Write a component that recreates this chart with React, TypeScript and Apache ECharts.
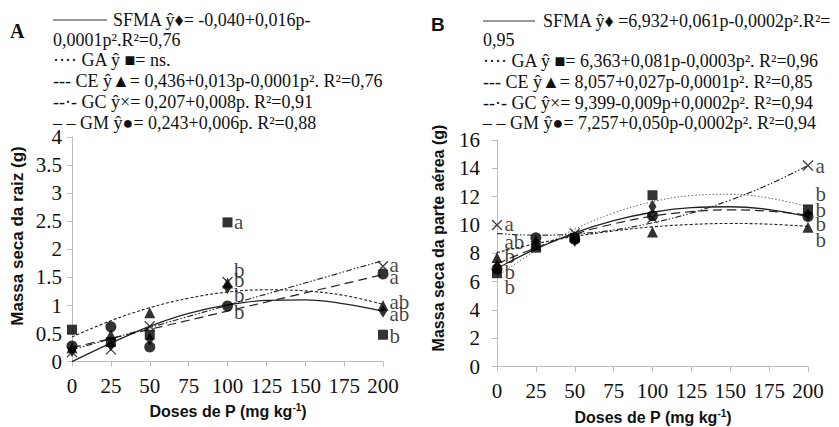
import React, { useEffect, useRef } from "react";
import * as echarts from "echarts";

// ---------- data ----------
const doses = [0, 25, 50, 100, 200];
const fitDoses = [0, 25, 50, 75, 100, 125, 150, 175, 200];
const treatments = ["SFMA", "GA", "CE", "GC", "GM"];

// Panel A – Massa seca da raiz (g)
const rootSFMA = [0.2, 0.3, 0.4, 1.32, 0.9];
const rootGA = [0.57, 0.35, 0.48, 2.48, 0.48];
const rootCE = [0.25, 0.48, 0.87, 1.4, 1.0];
const rootGC = [0.17, 0.22, 0.63, 1.42, 1.7];
const rootGM = [0.28, 0.62, 0.26, 0.99, 1.56];
// fitted curves (at fitDoses)
const rootFitSFMA = [0, 0.33, 0.63, 0.86, 1.01, 1.09, 1.1, 1.03, 0.9];
const rootFitCE = [0.44, 0.73, 0.96, 1.13, 1.24, 1.28, 1.26, 1.18, 1.02];
const rootFitGC = [0.21, null, null, null, null, null, null, null, 1.8];
const rootFitGM = [0.25, null, null, null, null, null, null, null, 1.55];
const rootLetters = [
  { dose: 100, value: 2.48, text: "a" },
  { dose: 100, value: 1.63, text: "b" },
  { dose: 100, value: 1.45, text: "b" },
  { dose: 100, value: 1.19, text: "b" },
  { dose: 100, value: 0.89, text: "b" },
  { dose: 200, value: 1.72, text: "a" },
  { dose: 200, value: 1.51, text: "a" },
  { dose: 200, value: 1.07, text: "ab" },
  { dose: 200, value: 0.85, text: "ab" },
  { dose: 200, value: 0.46, text: "b" },
];
const legendA = [
  "SFMA ŷ♦= -0,040+0,016p-",
  "0,0001p².R²=0,76",
  "···· GA ŷ ■= ns.",
  "--- CE ŷ▲= 0,436+0,013p-0,0001p². R²=0,76",
  "--·- GC ŷ×= 0,207+0,008p. R²=0,91",
  "– – GM ŷ●= 0,243+0,006p. R²=0,88",
];

// Panel B – Massa seca da parte aérea (g)
const shootSFMA = [7.1, 8.8, 8.9, 11.3, 10.7];
const shootGA = [6.6, 8.4, 9.1, 12.1, 11.1];
const shootCE = [7.7, 8.6, 9.2, 9.5, 9.85];
const shootGC = [10.0, 8.5, 9.4, 10.5, 14.2];
const shootGM = [6.9, 9.1, 9.0, 10.65, 10.6];
const shootFitSFMA = [6.93, 8.32, 9.45, 10.31, 10.9, 11.23, 11.29, 11.09, 10.6];
const shootFitGA = [6.36, 8.21, 9.71, 10.85, 11.64, 12.08, 12.17, 11.9, 11.3];
const shootFitCE = [8.06, 8.68, 9.19, 9.58, 9.87, 10.04, 10.11, 10.06, 9.9];
const shootFitGC = [9.4, 9.28, 9.36, 9.65, 10.15, 10.85, 11.76, 12.87, 14.2];
const shootFitGM = [7.26, 8.4, 9.35, 10.08, 10.62, 10.94, 11.07, 10.98, 10.7];
const shootLetters = [
  { dose: 0, value: 10.1, text: "a" },
  { dose: 0, value: 8.8, text: "ab" },
  { dose: 0, value: 7.8, text: "b" },
  { dose: 0, value: 6.65, text: "b" },
  { dose: 0, value: 5.6, text: "b" },
  { dose: 200, value: 14.2, text: "a" },
  { dose: 200, value: 12.2, text: "b" },
  { dose: 200, value: 11.06, text: "b" },
  { dose: 200, value: 10.07, text: "b" },
  { dose: 200, value: 8.96, text: "b" },
];
const legendB = [
  "SFMA ŷ♦ =6,932+0,061p-0,0002p².R²=",
  "0,95",
  "···· GA ŷ ■= 6,363+0,081p-0,0003p². R²=0,96",
  "--- CE ŷ▲= 8,057+0,027p-0,0001p². R²=0,85",
  "--·- GC ŷ×= 9,399-0,009p+0,0002p². R²=0,94",
  "– – GM ŷ●= 7,257+0,050p-0,0002p². R²=0,94",
];

// ---------- styles ----------
const SERIF = "Times New Roman, Liberation Serif, serif";
const SANS = "Liberation Sans";
const AXIS_GREY = "#bdbdbd";

const symbolOf: Record<string, any> = {
  SFMA: { symbol: "diamond", size: [8, 13] },
  GA: { symbol: "rect", size: 10 },
  CE: { symbol: "triangle", size: 11 },
  GC: { symbol: "path://M0,0L10,10M10,0L0,10", size: 10, cross: true },
  GM: { symbol: "circle", size: 11 },
};

const lineStyleOf: Record<string, any> = {
  SFMA: { type: "solid", width: 1.3, color: "#222" },
  GA: { type: [1.5, 2], width: 1, color: "#666" },
  CE: { type: [3, 2], width: 1.1, color: "#222" },
  GC: { type: [6, 2, 1.5, 2, 1.5, 2], width: 1.1, color: "#222" },
  GM: { type: [9, 5], width: 1.2, color: "#222" },
};

function pts(values: number[]) {
  return values.map((v, i) => [doses[i], v]);
}
function fitPts(values: (number | null)[]) {
  return values
    .map((v, i) => (v === null ? null : [fitDoses[i], v]))
    .filter((p) => p !== null);
}

function scatter(name: string, values: number[], idx: number) {
  const s = symbolOf[name];
  return {
    type: "scatter",
    name,
    xAxisIndex: idx,
    yAxisIndex: idx,
    symbol: s.symbol,
    symbolSize: s.size,
    z: 4,
    itemStyle: s.cross
      ? { color: "rgba(0,0,0,0)", borderColor: "#111", borderWidth: 1.3 }
      : { color: "#000" },
    data: pts(values),
  };
}

function fitLine(name: string, values: (number | null)[], idx: number) {
  const ls = lineStyleOf[name];
  return {
    type: "line",
    name: name + " fit",
    xAxisIndex: idx,
    yAxisIndex: idx,
    showSymbol: false,
    symbol: "none",
    smooth: 0.4,
    z: 3,
    lineStyle: { color: ls.color, width: ls.width, type: ls.type },
    data: fitPts(values),
  };
}

function letters(list: { dose: number; value: number; text: string }[], idx: number, dist: number) {
  return {
    type: "scatter",
    xAxisIndex: idx,
    yAxisIndex: idx,
    symbolSize: 1,
    z: 5,
    itemStyle: { color: "rgba(0,0,0,0)" },
    label: {
      show: true,
      position: "right",
      distance: dist,
      formatter: (p: any) => p.name,
      fontFamily: SERIF,
      fontSize: 21,
      color: "#111",
    },
    data: list.map((l) => ({ name: l.text, value: [l.dose, l.value] })),
  };
}

function xAxisDef(idx: number) {
  return {
    type: "value",
    gridIndex: idx,
    min: 0,
    max: 200,
    interval: 25,
    axisLine: { show: true, lineStyle: { color: AXIS_GREY, width: 1 } },
    axisTick: { show: true, length: 5, lineStyle: { color: AXIS_GREY } },
    splitLine: { show: false },
    axisLabel: { fontFamily: SERIF, fontSize: 21, color: "#111", margin: 14 },
  };
}

function yAxisDef(idx: number, max: number, interval: number, margin: number) {
  return {
    type: "value",
    gridIndex: idx,
    min: 0,
    max,
    interval,
    axisLine: { show: true, lineStyle: { color: AXIS_GREY, width: 1 } },
    axisTick: { show: true, length: 5, lineStyle: { color: AXIS_GREY } },
    splitLine: { show: false },
    axisLabel: { fontFamily: SERIF, fontSize: 21, color: "#111", margin },
  };
}

function txt(text: string, x: number, y: number, font: string, extra: any = {}) {
  return {
    type: "text",
    x,
    y,
    silent: true,
    style: {
      text,
      font,
      fill: "#111",
      align: "left",
      verticalAlign: "middle",
      textAlign: "left",
      textVerticalAlign: "middle",
      ...extra,
    },
  };
}

function legendGraphics(lines: string[], x0: number, lineEnd: number, firstTextX: number, rows: number[]) {
  const g: any[] = [];
  g.push({
    type: "line",
    silent: true,
    shape: { x1: x0, y1: rows[0], x2: lineEnd, y2: rows[0] },
    style: { stroke: "#333", lineWidth: 1 },
  });
  g.push(txt(lines[0], firstTextX, rows[0], `18px Liberation Serif`));
  for (let i = 1; i < lines.length; i++) {
    g.push(txt(lines[i], x0, rows[i], `18px Liberation Serif`));
  }
  return g;
}

const xTitleRich = {
  n: { fontFamily: SANS, fontWeight: "bold", fontSize: 16, fill: "#111", color: "#111" },
  s: { fontFamily: SANS, fontWeight: "bold", fontSize: 10, fill: "#111", color: "#111", verticalAlign: "bottom", padding: [0, 0, 8, 0] },
};

function xTitle(x: number, y: number) {
  return {
    type: "text",
    x,
    y,
    silent: true,
    style: {
      text: "{n|Doses de P (mg kg}{s|-1}{n|)}",
      rich: xTitleRich,
      align: "center",
      verticalAlign: "middle",
      textAlign: "center",
      textVerticalAlign: "middle",
    },
  };
}

function yTitle(text: string, x: number, y: number, size: number) {
  return {
    type: "text",
    x,
    y,
    rotation: Math.PI / 2,
    silent: true,
    style: {
      text,
      font: `bold ${size}px ${SANS}`,
      fill: "#111",
      align: "center",
      verticalAlign: "middle",
      textAlign: "center",
      textVerticalAlign: "middle",
    },
  };
}

export default function App() {
  const ref = useRef<HTMLDivElement>(null);
  useEffect(() => {
    if (!ref.current) return;
    const chart = echarts.init(ref.current, undefined, { renderer: "svg" });
    const rootVals: Record<string, number[]> = { SFMA: rootSFMA, GA: rootGA, CE: rootCE, GC: rootGC, GM: rootGM };
    const shootVals: Record<string, number[]> = { SFMA: shootSFMA, GA: shootGA, CE: shootCE, GC: shootGC, GM: shootGM };
    const series: any[] = [
      fitLine("SFMA", rootFitSFMA, 0),
      fitLine("CE", rootFitCE, 0),
      fitLine("GC", rootFitGC, 0),
      fitLine("GM", rootFitGM, 0),
      fitLine("SFMA", shootFitSFMA, 1),
      fitLine("GA", shootFitGA, 1),
      fitLine("CE", shootFitCE, 1),
      fitLine("GC", shootFitGC, 1),
      fitLine("GM", shootFitGM, 1),
    ];
    treatments.forEach((t) => series.push(scatter(t, rootVals[t], 0)));
    treatments.forEach((t) => series.push(scatter(t, shootVals[t], 1)));
    series.push(letters(rootLetters, 0, 6));
    series.push(letters(shootLetters, 1, 7));

    const rowsA = [20, 40, 60, 81, 102, 123];
    const rowsB = [21, 40, 61, 82, 103, 123];

    chart.setOption({
      animation: false,
      backgroundColor: "#fff",
      grid: [
        { left: 72, right: 456, top: 137, bottom: 65.3, containLabel: false },
        { left: 497, right: 31, top: 140, bottom: 60.3, containLabel: false },
      ],
      xAxis: [xAxisDef(0), xAxisDef(1)],
      yAxis: [yAxisDef(0, 4, 0.5, 10), yAxisDef(1, 16, 2, 17)],
      series,
      graphic: [
        txt("A", 10, 31, `bold 20px Liberation Serif`),
        txt("B", 431, 24, `bold 19px ${SANS}`),
        ...legendGraphics(legendA, 53, 107, 113, rowsA),
        ...legendGraphics(legendB, 483, 535, 543, rowsB),
        xTitle(228, 411),
        xTitle(653, 417),
        yTitle("Massa seca da raiz (g)", 17, 236, 17),
        yTitle("Massa seca da parte aérea (g)", 438, 238, 16),
      ],
    });
    return () => chart.dispose();
  }, []);
  return (
    <div
      ref={ref}
      style={{ position: "absolute", left: 0, top: 0, width: 839, height: 427, background: "#fff" }}
    />
  );
}
